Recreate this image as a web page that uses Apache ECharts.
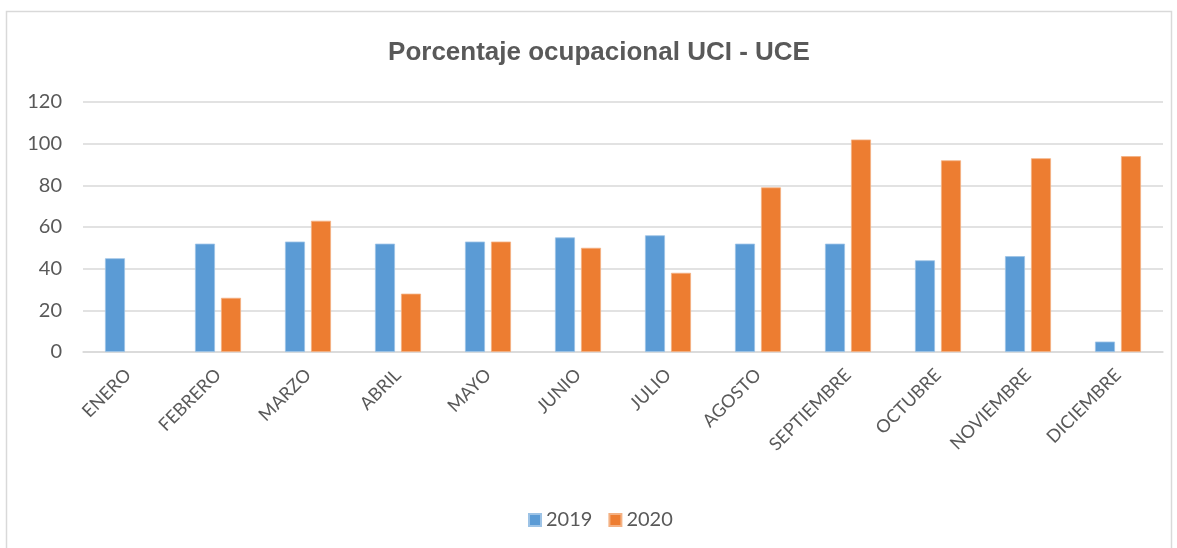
<!DOCTYPE html>
<html>
<head>
<meta charset="utf-8">
<script src="https://cdn.jsdelivr.net/npm/echarts@6/dist/echarts.min.js"></script>
<style>
  html, body { margin: 0; padding: 0; background: #fff; }
  #chart { width: 1177px; height: 548px; }
</style>
</head>
<body>
<div id="chart"></div>
<script>
// datos
const meses = ['ENERO', 'FEBRERO', 'MARZO', 'ABRIL', 'MAYO', 'JUNIO', 'JULIO',
  'AGOSTO', 'SEPTIEMBRE', 'OCTUBRE', 'NOVIEMBRE', 'DICIEMBRE'];
const datos2019 = [45, 52, 53, 52, 53, 55, 56, 52, 52, 44, 46, 5];
const datos2020 = [null, 26, 63, 28, 53, 50, 38, 79, 102, 92, 93, 94];
const ticksY = [0, 20, 40, 60, 80, 100, 120];

const chart = echarts.init(document.getElementById('chart'));

const option = {
  animation: false,
  color: ['#5B9BD5', '#ED7D31'],
  title: {
    text: 'Porcentaje ocupacional UCI - UCE',
    left: 594,
    top: 35,
    textAlign: 'center',
    textStyle: {
      fontFamily: '"Liberation Sans", Arial',
      fontWeight: 'bold',
      fontSize: 26,
      color: '#595959'
    }
  },
  // marco gris del grafico
  graphic: [{
    type: 'rect',
    shape: { x: 6.5, y: 11.5, width: 1165, height: 560 },
    style: { fill: 'none', stroke: '#d9d9d9', lineWidth: 1.5 },
    silent: true
  }],
  legend: {
    data: ['2019', '2020'],
    left: 523,
    top: 505,
    itemWidth: 12,
    itemHeight: 12,
    itemGap: 16,
    icon: 'rect',
    textStyle: { fontFamily: 'Lato', fontSize: 20, color: '#595959' }
  },
  grid: { left: 83, right: 14, top: 102, bottom: 196 },
  xAxis: {
    type: 'category',
    data: meses,
    axisTick: { show: false },
    axisLine: { lineStyle: { color: '#d9d9d9', width: 1.5 } },
    axisLabel: {
      rotate: 45,
      interval: 0,
      margin: 20,
      fontFamily: 'Lato',
      fontSize: 18,
      color: '#595959'
    }
  },
  yAxis: {
    type: 'value',
    min: ticksY[0],
    max: ticksY[ticksY.length - 1],
    interval: 20,
    axisLine: { show: false },
    axisTick: { show: false },
    splitLine: { lineStyle: { color: '#d9d9d9', width: 1.5 } },
    axisLabel: {
      margin: 21,
      fontFamily: 'Lato',
      fontSize: 20,
      color: '#595959'
    }
  },
  series: [
    {
      name: '2019',
      type: 'bar',
      data: datos2019,
      barWidth: 20,
      barGap: '30%',
      itemStyle: { borderColor: '#9dc3e6', borderWidth: 0.8 }
    },
    {
      name: '2020',
      type: 'bar',
      data: datos2020,
      barWidth: 20,
      itemStyle: { borderColor: '#f4b183', borderWidth: 0.8 }
    }
  ]
};

chart.setOption(option);
</script>
</body>
</html>
